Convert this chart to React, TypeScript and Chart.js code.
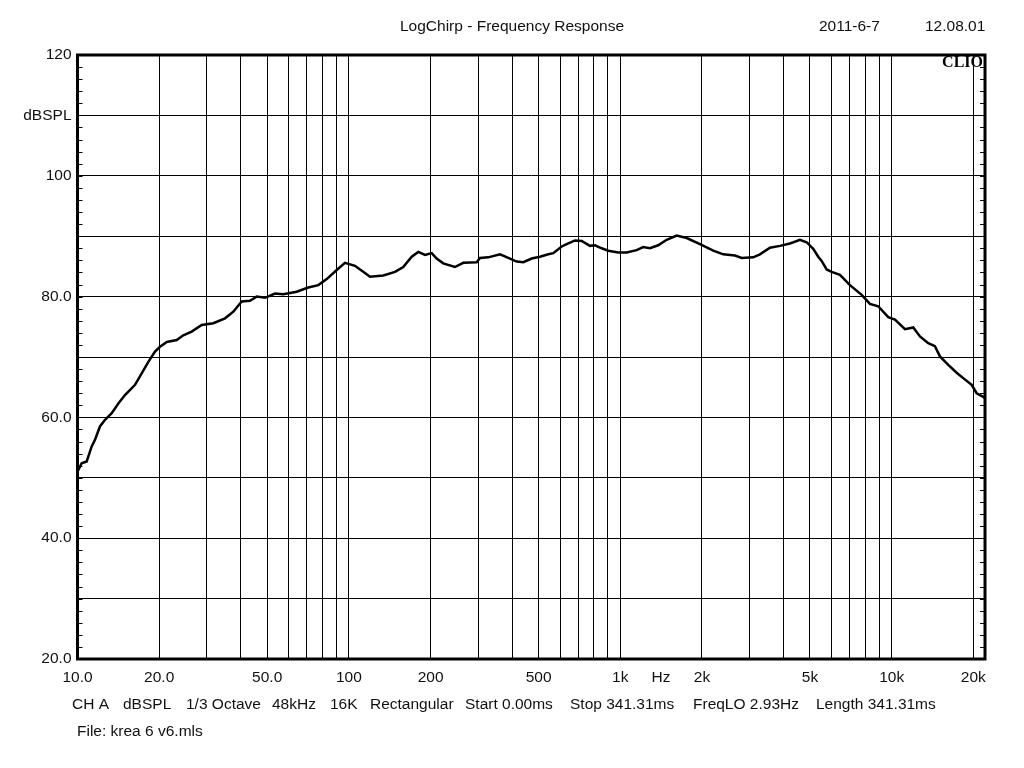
import React, { useEffect, useRef } from "react";
import { Chart, registerables } from "chart.js";

Chart.register(...registerables);

// Frequency response (Hz, dBSPL)
const FREQ_HZ = [
  10, 10.36, 10.81, 11.28, 11.6, 12.1, 12.63, 13.37, 14.14, 14.96, 16.29, 17.24, 18.24, 19.3,
  20.14, 21.32, 23.21, 24.54, 26.35, 28.69, 31.65, 34.96, 37.51, 40.27, 43.2, 45.73, 49.08,
  53.43, 57.32, 64.22, 70.86, 77.16, 82.85, 90.19, 96.75, 105.3, 114.6, 119.6, 133.9, 147.9,
  158.6, 170.4, 180.2, 190.8, 201.9, 210.6, 222.7, 245.9, 264.0, 295.7, 304.1, 326.3, 360.4,
  386.7, 415.3, 439.2, 471.6, 506.0, 542.9, 566.4, 608.3, 634.6, 681.0, 720.9, 773.4, 807.0,
  854.3, 903.5, 983.2, 1056, 1149, 1215, 1286, 1380, 1482, 1614, 1757, 1967, 2201, 2396, 2646,
  2802, 3090, 3271, 3561, 3877, 4220, 4594, 4862, 5141, 5364, 5521, 5761, 6010, 6449, 7021,
  7753, 8318, 8925, 9716, 10285, 11194, 12012, 12716, 13643, 14437, 15066, 16166, 17358, 18357,
  19716, 20570, 21757, 22076,
];
const SPL_DB = [
  51.0, 52.4, 52.7, 55.2, 56.3, 58.5, 59.6, 60.7, 62.3, 63.7, 65.4, 67.3, 69.2, 70.9,
  71.7, 72.5, 72.8, 73.6, 74.2, 75.3, 75.6, 76.4, 77.5, 79.2, 79.3, 80.0, 79.8,
  80.5, 80.4, 80.8, 81.5, 81.9, 82.9, 84.4, 85.6, 85.1, 83.9, 83.3, 83.5, 84.1,
  84.9, 86.6, 87.4, 86.9, 87.2, 86.3, 85.5, 84.9, 85.6, 85.7, 86.4, 86.5, 87.0,
  86.4, 85.8, 85.7, 86.3, 86.6, 87.0, 87.2, 88.3, 88.7, 89.3, 89.2, 88.4, 88.5,
  88.0, 87.6, 87.3, 87.3, 87.7, 88.2, 88.0, 88.5, 89.4, 90.1, 89.7, 88.7, 87.6, 87.0, 86.8,
  86.4, 86.5, 87.0, 88.1, 88.4, 88.8, 89.4, 89.0, 87.9, 86.6, 85.9, 84.5, 84.1, 83.6, 81.9,
  80.3, 78.8, 78.4, 76.6, 76.2, 74.6, 74.9, 73.4, 72.3, 71.8, 70.1, 68.7, 67.4, 66.5,
  65.4, 64.0, 63.4, 63.2,
];

const X_MIN = 10;
const X_MAX = 22080;
const Y_MIN = 20;
const Y_MAX = 120;

const X_GRID_VALUES = [
  10, 20, 30, 40, 50, 60, 70, 80, 90, 100, 200, 300, 400, 500, 600, 700, 800, 900,
  1000, 2000, 3000, 4000, 5000, 6000, 7000, 8000, 9000, 10000, 20000,
];
const HZ_LABEL_POS = 1414;
const X_LABEL_VALUES = [10, 20, 50, 100, 200, 500, 1000, HZ_LABEL_POS, 2000, 5000, 10000, 20000];
const X_LABEL_TEXT = ["10.0", "20.0", "50.0", "100", "200", "500", "1k", "Hz", "2k", "5k", "10k", "20k"];

const Y_LABEL_VALUES = [120, 110, 100, 80, 60, 40, 20];
const Y_LABEL_TEXT = ["120", "dBSPL", "100", "80.0", "60.0", "40.0", "20.0"];

const TITLE = "LogChirp - Frequency Response";
const DATE_TEXT = "2011-6-7";
const TIME_TEXT = "12.08.01";
const BRAND = "CLIO";
const FOOTER_ITEMS = [
  "CH A", "dBSPL", "1/3 Octave", "48kHz", "16K", "Rectangular",
  "Start 0.00ms", "Stop 341.31ms", "FreqLO 2.93Hz", "Length 341.31ms",
];
const FOOTER_X = [72, 123, 186, 272, 330, 370, 465, 570, 693, 816];
const FILE_TEXT = "File: krea 6 v6.mls";

const FONT = '"Liberation Sans", Arial, sans-serif';
const TEXT_COLOR = "#111";

const decorPlugin = {
  id: "clioDecor",
  afterDraw(chart: any) {
    const { ctx, chartArea } = chart;
    const { left, right, top, bottom } = chartArea;
    const yScale = chart.scales.y;
    ctx.save();
    // minor ticks every 2 dB on left and right
    ctx.strokeStyle = "#000";
    ctx.lineWidth = 1;
    ctx.beginPath();
    for (let v = Y_MIN; v <= Y_MAX; v += 2) {
      const y = Math.round(yScale.getPixelForValue(v)) + 0.5;
      ctx.moveTo(left, y);
      ctx.lineTo(left + 5, y);
      ctx.moveTo(right, y);
      ctx.lineTo(right - 5, y);
    }
    ctx.stroke();
    // frame
    ctx.lineWidth = 3;
    ctx.strokeRect(left, top, right - left, bottom - top);

    // texts
    ctx.fillStyle = TEXT_COLOR;
    ctx.textBaseline = "middle";
    ctx.font = `15.5px ${FONT}`;
    ctx.textAlign = "center";
    ctx.fillText(TITLE, 512, 27);
    ctx.textAlign = "left";
    ctx.fillText(DATE_TEXT, 819, 27);
    ctx.fillText(TIME_TEXT, 925, 27);
    FOOTER_ITEMS.forEach((t, i) => ctx.fillText(t, FOOTER_X[i], 705));
    ctx.fillText(FILE_TEXT, 77, 732);

    ctx.font = `bold 16px "Liberation Serif", "Times New Roman", serif`;
    ctx.textAlign = "right";
    ctx.fillStyle = "#000";
    ctx.fillText(BRAND, right - 2, 63);
    ctx.restore();
  },
};

export default function App() {
  const ref = useRef<HTMLCanvasElement | null>(null);

  useEffect(() => {
    document.body.style.margin = "0";
    const canvas = ref.current;
    if (!canvas) return;
    const points = FREQ_HZ.map((f, i) => ({ x: f, y: SPL_DB[i] }));
    const chart = new Chart(canvas, {
      type: "line",
      data: {
        datasets: [
          {
            data: points,
            borderColor: "#000",
            borderWidth: 2.5,
            pointRadius: 0,
            tension: 0,
            fill: false,
          },
        ],
      },
      options: {
        animation: false,
        responsive: false,
        maintainAspectRatio: false,
        layout: { padding: { left: 0, top: 55, right: 39, bottom: 0 } },
        plugins: {
          legend: { display: false },
          tooltip: { enabled: false },
          title: { display: false },
        },
        scales: {
          x: {
            type: "logarithmic",
            min: X_MIN,
            max: X_MAX,
            afterBuildTicks: (scale: any) => {
              const all = Array.from(new Set([...X_GRID_VALUES, HZ_LABEL_POS])).sort((a, b) => a - b);
              scale.ticks = all.map((v) => ({ value: v }));
            },
            afterFit: (scale: any) => {
              scale.height = 109;
            },
            grid: {
              drawTicks: false,
              lineWidth: 1,
              color: (c: any) =>
                c.tick && c.tick.value === HZ_LABEL_POS ? "rgba(0,0,0,0)" : "#000",
            },
            border: { display: false },
            ticks: {
              autoSkip: false,
              maxRotation: 0,
              minRotation: 0,
              padding: 9,
              color: TEXT_COLOR,
              font: { family: FONT, size: 15.5 },
              callback: (value: any) => {
                const i = X_LABEL_VALUES.indexOf(Number(value));
                return i >= 0 ? X_LABEL_TEXT[i] : "";
              },
            },
          },
          y: {
            type: "linear",
            min: Y_MIN,
            max: Y_MAX,
            afterFit: (scale: any) => {
              scale.width = 77.5;
            },
            grid: { drawTicks: false, lineWidth: 1, color: "#000" },
            border: { display: false },
            ticks: {
              stepSize: 10,
              padding: 6,
              color: TEXT_COLOR,
              font: { family: FONT, size: 15.5 },
              callback: (value: any) => {
                const i = Y_LABEL_VALUES.indexOf(Number(value));
                return i >= 0 ? Y_LABEL_TEXT[i] : "";
              },
            },
          },
        },
      },
      plugins: [decorPlugin],
    });
    return () => chart.destroy();
  }, []);

  return (
    <div style={{ width: 1024, height: 768, background: "#fff" }}>
      <canvas ref={ref} width={1024} height={768} style={{ display: "block" }} />
    </div>
  );
}
